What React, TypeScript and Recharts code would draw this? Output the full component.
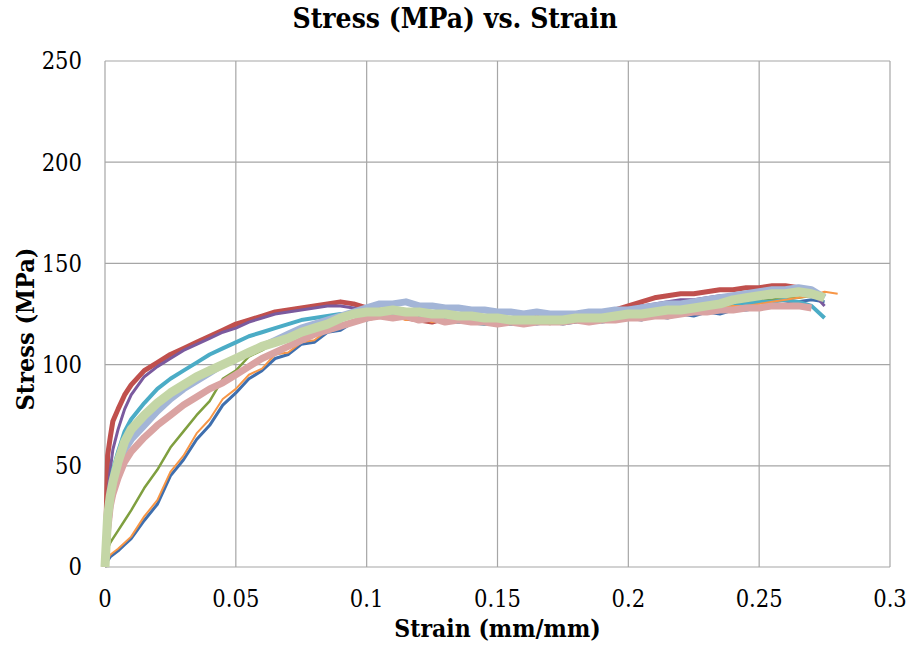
import { LineChart, Line, XAxis, YAxis, CartesianGrid } from "recharts";

const strain = [
  0, 0.001, 0.002, 0.003, 0.005, 0.0075, 0.01, 0.015, 0.02, 0.025, 0.03, 0.035, 0.04,
  0.045, 0.05, 0.055, 0.06, 0.065, 0.07, 0.075, 0.08, 0.085, 0.09, 0.095,
  0.1, 0.105, 0.11, 0.115, 0.12, 0.125, 0.13, 0.135, 0.14, 0.145, 0.15, 0.155, 0.16,
  0.165, 0.17, 0.175, 0.18, 0.185, 0.19, 0.195, 0.2, 0.205, 0.21, 0.215, 0.22, 0.225,
  0.23, 0.235, 0.24, 0.245, 0.25, 0.255, 0.26, 0.265, 0.27, 0.275, 0.28,
];

// stress (MPa) per specimen, same index as strain; null = specimen already broken
const s1 = [
  0, 3, 5, 6, 8, 11, 14, 23, 31, 45, 53, 63, 70, 80, 86, 93, 97, 103, 105, 110, 111, 116, 117, 121,
  122, 124, 125, 123, 124, 122, 123, 121, 122, 121, 121, 120, 121, 120, 121, 120, 121, 122,
  121, 122, 123, 122, 124, 123, 125, 124, 126, 125, 127, 127, 128, 129, 130, 131, 132, 131, null,
];
const s2 = [
  0, 55, 64, 72, 78, 85, 90, 97, 101, 105, 108, 111, 114, 117, 120, 122, 124, 126, 127, 128, 129, 130, 131, 130,
  128, 127, 125, 123, 122, 121, 123, 122, 124, 123, 123, 122, 124, 123, 124, 124, 125, 125,
  126, 127, 129, 131, 133, 134, 135, 135, 136, 137, 137, 138, 138, 139, 139, 138, null, null, null,
];
const s3 = [
  0, 9, 12, 14, 18, 23, 28, 39, 48, 59, 67, 75, 82, 93, 97, 104, 107, 111, 113, 117, 118, 121, 122, 124,
  124, 125, 124, 123, 124, 122, 123, 122, 121, 122, 121, 120, 121, 121, 120, 121, 121, 122,
  122, 123, 124, 124, 125, 126, 127, 127, 128, 129, 130, 131, 132, 132, 133, 133, 134, null, null,
];
const s4 = [
  0, 35, 48, 58, 68, 78, 85, 94, 99, 103, 107, 110, 113, 116, 118, 121, 123, 125, 126, 127, 128, 129, 129, 128,
  127, 126, 125, 124, 125, 123, 124, 123, 124, 123, 123, 122, 123, 123, 124, 124, 125, 125,
  126, 127, 128, 129, 130, 131, 132, 132, 133, 134, 134, 135, 135, 136, 136, 137, 136, 129, null,
];
const s5 = [
  0, 28, 40, 48, 57, 67, 73, 81, 88, 93, 97, 101, 105, 108, 111, 114, 116, 118, 120, 122, 123, 124, 125, 125,
  125, 125, 124, 123, 123, 122, 122, 121, 121, 120, 121, 120, 121, 121, 122, 121, 122, 122,
  123, 123, 124, 125, 125, 126, 127, 127, 128, 129, 129, 130, 131, 131, 132, 131, 129, 123, null,
];
const s6 = [
  0, 4, 6, 7, 9, 12, 15, 25, 33, 47, 55, 66, 73, 83, 88, 95, 98, 105, 106, 111, 112, 117, 118, 121,
  122, 123, 124, 122, 123, 121, 122, 121, 122, 121, 121, 120, 121, 121, 122, 121, 122, 122,
  123, 122, 124, 124, 125, 125, 126, 127, 127, 128, 129, 129, 130, 131, 132, 133, 134, 136, 135,
];
const s7 = [
  0, 20, 32, 40, 50, 58, 63, 70, 77, 83, 88, 92, 96, 100, 103, 106, 109, 112, 115, 118, 120, 122, 124, 126,
  128, 130, 130, 131, 129, 129, 128, 128, 127, 127, 126, 126, 125, 126, 125, 125, 125, 126,
  126, 127, 127, 128, 129, 130, 130, 131, 132, 133, 134, 135, 136, 137, 137, 138, 137, 133, null,
];
const s8 = [
  0, 18, 30, 36, 44, 52, 57, 64, 70, 75, 80, 84, 88, 91, 95, 99, 103, 106, 109, 112, 115, 117, 119, 121,
  123, 124, 123, 124, 122, 123, 121, 122, 121, 121, 120, 121, 120, 121, 121, 121, 122, 121,
  122, 122, 123, 123, 124, 124, 125, 126, 126, 127, 127, 128, 128, 129, 129, 129, 128, null, null,
];
const s9 = [
  0, 25, 35, 42, 52, 62, 68, 75, 81, 86, 90, 94, 97, 100, 103, 106, 109, 111, 113, 116, 118, 120, 123, 125,
  126, 126, 127, 126, 126, 125, 125, 124, 124, 123, 123, 122, 122, 122, 122, 122, 123, 123,
  123, 124, 125, 125, 126, 127, 127, 128, 129, 130, 132, 133, 134, 135, 135, 136, 135, 133, null,
];

const xTicks = [0, 0.05, 0.1, 0.15, 0.2, 0.25, 0.3];
const yTicks = [0, 50, 100, 150, 200, 250];

const series = [
  { key: "s1", values: s1, color: "#3F6FAE", width: 3 },
  { key: "s2", values: s2, color: "#C0504D", width: 5 },
  { key: "s3", values: s3, color: "#7F9F3F", width: 2.5 },
  { key: "s4", values: s4, color: "#7A5A9E", width: 3 },
  { key: "s5", values: s5, color: "#4BACC6", width: 4 },
  { key: "s6", values: s6, color: "#F79646", width: 2 },
  { key: "s7", values: s7, color: "#A3B5D7", width: 7 },
  { key: "s8", values: s8, color: "#DAA3A2", width: 7 },
  { key: "s9", values: s9, color: "#C4D6A6", width: 9 },
];

const rows = strain.map((x, i) => {
  const row: Record<string, number | null> = { strain: x };
  series.forEach((s) => {
    row[s.key] = s.values[i] ?? null;
  });
  return row;
});

const font = '"DejaVu Serif Condensed", "DejaVu Serif", serif';

export default function App() {
  return (
    <div style={{ position: "absolute", left: 0, top: 0, width: 910, height: 651, background: "#fff", fontFamily: font }}>
      <div style={{
        position: "absolute", top: 2, left: 0, width: 910, textAlign: "center",
        fontSize: 28, fontWeight: 700, color: "#000", fontStretch: "condensed",
      }}>
        Stress (MPa) vs. Strain
      </div>

      <LineChart
        width={910}
        height={651}
        data={rows}
        margin={{ top: 61, right: 20, bottom: 34, left: 0 }}
      >
        <CartesianGrid stroke="#A6A6A6" strokeWidth={1.2} />
        <XAxis
          dataKey="strain"
          type="number"
          domain={[0, 0.3]}
          ticks={xTicks}
          interval={0}
          axisLine={false}
          tickLine={false}
          tickSize={0}
          tickMargin={23}
          height={50}
          tick={{ fill: "#000", fontSize: 23.5, fontFamily: font }}
        />
        <YAxis
          type="number"
          domain={[0, 250]}
          ticks={yTicks}
          interval={0}
          axisLine={false}
          tickLine={false}
          tickSize={0}
          tickMargin={23}
          width={105}
          tick={{ fill: "#000", fontSize: 23.5, fontFamily: font }}
        />
        {series.map((s) => (
          <Line
            key={s.key}
            dataKey={s.key}
            type="linear"
            stroke={s.color}
            strokeWidth={s.width}
            strokeLinejoin="round"
            dot={false}
            activeDot={false}
            connectNulls={false}
            isAnimationActive={false}
          />
        ))}
      </LineChart>

      <div style={{
        position: "absolute", top: 614, left: 105, width: 785, textAlign: "center",
        fontSize: 24.5, fontWeight: 700, fontStretch: "condensed",
      }}>
        Strain (mm/mm)
      </div>
      <div style={{
        position: "absolute", left: 25, top: 329,
        transform: "translate(-50%, -50%) rotate(-90deg)",
        whiteSpace: "nowrap", fontSize: 25, fontWeight: 700, fontStretch: "condensed",
      }}>
        Stress (MPa)
      </div>
    </div>
  );
}
